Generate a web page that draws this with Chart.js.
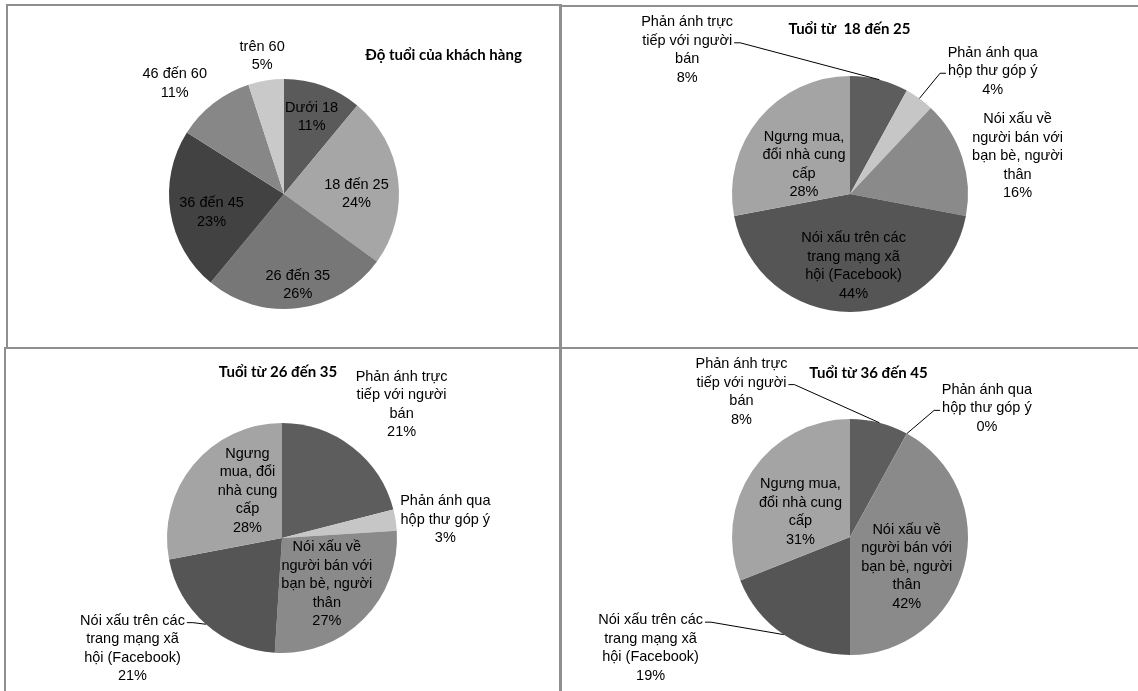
<!DOCTYPE html>
<html>
<head>
<meta charset="utf-8">
<script src="https://cdn.jsdelivr.net/npm/chart.js@4.4.1/dist/chart.umd.min.js"></script>
<style>
    body { margin: 0; background: #fff; width: 1138px; height: 691px; overflow: hidden; position: relative; }
    .rule { position: absolute; background: #8f8f8f; }
    canvas { position: absolute; }
</style>
</head>
<body>
<div class="rule" style="left:6px;top:4px;width:555px;height:2px"></div>
<div class="rule" style="left:561px;top:5px;width:577px;height:2px"></div>
<div class="rule" style="left:6px;top:4px;width:2px;height:344px"></div>
<div class="rule" style="left:4px;top:347px;width:2px;height:344px"></div>
<div class="rule" style="left:4px;top:347px;width:1134px;height:2px"></div>
<div class="rule" style="left:559px;top:4px;width:3px;height:687px"></div>

<canvas id="chart1" width="551" height="341" style="left:8px;top:6px"></canvas>
<canvas id="chart2" width="576" height="340" style="left:562px;top:7px"></canvas>
<canvas id="chart3" width="553" height="342" style="left:6px;top:349px"></canvas>
<canvas id="chart4" width="576" height="342" style="left:562px;top:349px"></canvas>

<script>
// số liệu
const ageLabels = ["Dưới 18", "18 đến 25", "26 đến 35", "36 đến 45", "46 đến 60", "trên 60"];
const ageValues = [11, 24, 26, 23, 11, 5];

const reactionLabels = [
    "Phản ánh trực tiếp với người bán",
    "Phản ánh qua hộp thư góp ý",
    "Nói xấu về người bán với bạn bè, người thân",
    "Nói xấu trên các trang mạng xã hội (Facebook)",
    "Ngưng mua, đổi nhà cung cấp",
];
const values18to25 = [8, 4, 16, 44, 28];
const values26to35 = [21, 3, 27, 21, 28];
const values36to45 = [8, 0, 42, 19, 31];

const ageColors = ["#5a5a5a", "#a6a6a6", "#777777", "#424242", "#878787", "#c9c9c9"];
const reactionColors = ["#5d5d5d", "#c6c6c6", "#8a8a8a", "#555555", "#a4a4a4"];

// vẽ nhãn + đường dẫn
const pieLabels = {
    id: "pieLabels",
    afterDatasetsDraw(chart, args, opts) {
        const ctx = chart.ctx;
        const arcs = chart.getDatasetMeta(0).data;
        const values = chart.data.datasets[0].data;
        const cx = arcs[0].x, cy = arcs[0].y, r = arcs[0].outerRadius;
        ctx.save();
        ctx.fillStyle = "#000";
        ctx.strokeStyle = "#000";
        ctx.lineWidth = 1;
        ctx.textAlign = "center";
        ctx.textBaseline = "middle";
        ctx.font = "bold 15px Lato, 'Open Sans', sans-serif";
        ctx.fillText(opts.title, cx + opts.titleAt[0], cy + opts.titleAt[1]);
        ctx.font = "14.5px 'Liberation Sans', Arial, sans-serif";
        const lh = 18.5;
        opts.layout.forEach((lay, i) => {
            const lines = lay.lines.concat([values[i] + "%"]);
            const bx = cx + lay.at[0] * r, by = cy + lay.at[1] * r;
            const top = by - (lines.length - 1) * lh / 2;
            lines.forEach((t, k) => ctx.fillText(t, bx, top + k * lh));
            if (lay.leader) {
                const a = arcs[i];
                const mid = (a.startAngle + a.endAngle) / 2;
                const ex = cx + Math.cos(mid) * r, ey = cy + Math.sin(mid) * r;
                const k = lay.leader.line;
                const w = ctx.measureText(lines[k]).width;
                const ly = top + k * lh + 2;
                const dir = lay.leader.side === "right" ? 1 : -1;
                const sx = bx + dir * (w / 2 + 2);
                ctx.beginPath();
                ctx.moveTo(sx, ly);
                ctx.lineTo(sx + dir * 6, ly);
                ctx.lineTo(ex, ey);
                ctx.stroke();
            }
        });
        ctx.restore();
    },
};

function makePie(id, labels, values, colors, center, radius, labelOpts) {
    const canvas = document.getElementById(id);
    const ox = parseFloat(canvas.style.left), oy = parseFloat(canvas.style.top);
    return new Chart(canvas, {
        type: "pie",
        data: {
            labels: labels,
            datasets: [{
                data: values,
                backgroundColor: colors,
                borderWidth: 0,
                hoverOffset: 0,
            }],
        },
        options: {
            responsive: false,
            animation: false,
            events: [],
            devicePixelRatio: 1,
            radius: radius,
            layout: {
                padding: {
                    left: center[0] - radius - ox,
                    top: center[1] - radius - oy,
                    right: canvas.width - (center[0] + radius - ox),
                    bottom: canvas.height - (center[1] + radius - oy),
                },
            },
            plugins: {
                legend: { display: false },
                tooltip: { enabled: false },
                pieLabels: labelOpts,
            },
        },
        plugins: [pieLabels],
    });
}

const trucTiep = ["Phản ánh trực", "tiếp với người", "bán"];
const hopThu = ["Phản ánh qua", "hộp thư góp ý"];
const noiXauVe = ["Nói xấu về", "người bán với", "bạn bè, người", "thân"];
const noiXauMang = ["Nói xấu trên các", "trang mạng xã", "hội (Facebook)"];

makePie("chart1", ageLabels, ageValues, ageColors, [284, 194], 115, {
    title: "Độ tuổi của khách hàng",
    titleAt: [159.5, -139],
    layout: [
        { lines: ["Dưới 18"], at: [0.24, -0.67] },
        { lines: ["18 đến 25"], at: [0.63, 0.0] },
        { lines: ["26 đến 35"], at: [0.12, 0.79] },
        { lines: ["36 đến 45"], at: [-0.63, 0.16] },
        { lines: ["46 đến 60"], at: [-0.95, -0.96] },
        { lines: ["trên 60"], at: [-0.19, -1.2] },
    ],
});

makePie("chart2", reactionLabels, values18to25, reactionColors, [850, 194], 118, {
    title: "Tuổi từ  18 đến 25",
    titleAt: [-0.5, -165],
    layout: [
        { lines: trucTiep, at: [-1.38, -1.22], leader: { line: 1, side: "right" } },
        { lines: hopThu, at: [1.21, -1.04], leader: { line: 1, side: "left" } },
        { lines: noiXauVe, at: [1.42, -0.32] },
        { lines: noiXauMang, at: [0.03, 0.61] },
        { lines: ["Ngưng mua,", "đổi nhà cung", "cấp"], at: [-0.39, -0.25] },
    ],
});

makePie("chart3", reactionLabels, values26to35, reactionColors, [282, 538], 115, {
    title: "Tuổi từ 26 đến 35",
    titleAt: [-4, -166],
    layout: [
        { lines: trucTiep, at: [1.04, -1.16] },
        { lines: hopThu, at: [1.42, -0.16] },
        { lines: noiXauVe, at: [0.39, 0.4] },
        { lines: noiXauMang, at: [-1.3, 0.96], leader: { line: 0, side: "right" } },
        { lines: ["Ngưng", "mua, đổi", "nhà cung", "cấp"], at: [-0.3, -0.41] },
    ],
});

makePie("chart4", reactionLabels, values36to45, reactionColors, [850, 537], 118, {
    title: "Tuổi từ 36 đến 45",
    titleAt: [18.5, -164],
    layout: [
        { lines: trucTiep, at: [-0.92, -1.23], leader: { line: 1, side: "right" } },
        { lines: hopThu, at: [1.16, -1.09], leader: { line: 1, side: "left" } },
        { lines: noiXauVe, at: [0.48, 0.25] },
        { lines: noiXauMang, at: [-1.69, 0.94], leader: { line: 0, side: "right" } },
        { lines: ["Ngưng mua,", "đổi nhà cung", "cấp"], at: [-0.42, -0.21] },
    ],
});
</script>
</body>
</html>
